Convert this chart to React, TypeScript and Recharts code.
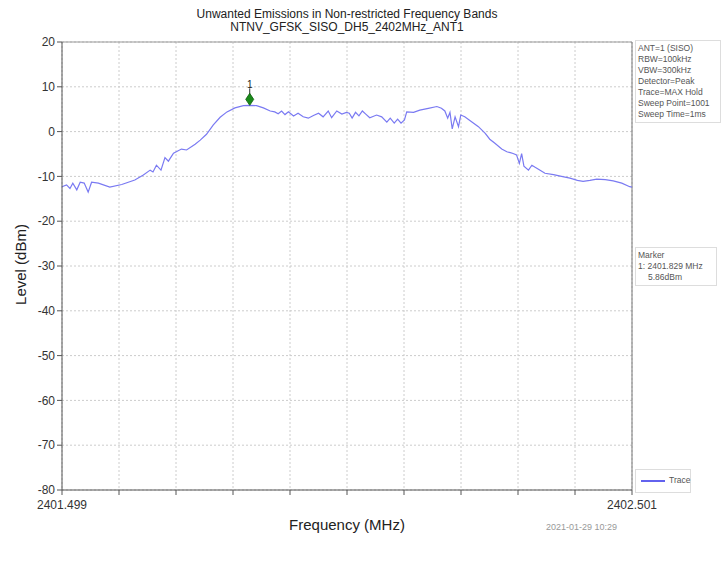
import { LineChart, Line, XAxis, YAxis, CartesianGrid, ReferenceLine, ReferenceDot } from 'recharts';

// trace (MHz, dBm)
const freqs = [
  2401.499, 2401.507, 2401.513, 2401.518, 2401.525, 2401.531, 2401.538, 2401.545, 2401.551, 2401.563,
  2401.583, 2401.604, 2401.627, 2401.642, 2401.654, 2401.659, 2401.665, 2401.673, 2401.68, 2401.686,
  2401.695, 2401.709, 2401.718, 2401.733, 2401.742, 2401.753, 2401.765, 2401.777, 2401.789, 2401.803,
  2401.818, 2401.829, 2401.841, 2401.853, 2401.865, 2401.873, 2401.879, 2401.885, 2401.891, 2401.897,
  2401.906, 2401.914, 2401.923, 2401.932, 2401.941, 2401.95, 2401.958, 2401.967, 2401.973, 2401.982,
  2401.991, 2401.999, 2402.004, 2402.009, 2402.015, 2402.021, 2402.027, 2402.033, 2402.04, 2402.052,
  2402.061, 2402.07, 2402.076, 2402.083, 2402.089, 2402.095, 2402.101, 2402.105, 2402.117, 2402.128,
  2402.143, 2402.158, 2402.166, 2402.172, 2402.177, 2402.181, 2402.185, 2402.19, 2402.196, 2402.2,
  2402.207, 2402.219, 2402.231, 2402.243, 2402.251, 2402.26, 2402.272, 2402.281, 2402.287, 2402.292,
  2402.298, 2402.303, 2402.307, 2402.311, 2402.319, 2402.325, 2402.33, 2402.338, 2402.348, 2402.363,
  2402.377, 2402.392, 2402.405, 2402.415, 2402.427, 2402.439, 2402.454, 2402.468, 2402.483, 2402.497,
  2402.501,
];
const levels = [
  -12.3, -11.9, -12.7, -11.5, -13.0, -11.3, -11.5, -13.5, -11.3, -11.5,
  -12.4, -11.8, -10.8, -9.7, -8.6, -9.0, -7.5, -8.6, -5.8, -6.6,
  -4.8, -3.9, -4.1, -2.8, -1.9, -0.6, 1.5, 3.2, 4.4, 5.3,
  5.8, 5.86, 5.8, 5.3, 4.6, 4.4, 4.0, 4.6, 3.8, 4.4,
  3.5, 4.1, 3.3, 3.0, 3.6, 4.1, 3.3, 4.6, 3.1, 4.6,
  3.9, 4.3, 4.1, 3.0, 4.3, 3.5, 4.6, 3.9, 3.1, 3.7,
  3.3, 2.1, 3.0, 1.9, 2.8, 1.9, 2.6, 4.4, 4.3, 4.8,
  5.2, 5.6, 5.2, 4.6, 3.0, 4.3, 0.6, 3.3, 1.1, 3.7,
  3.3, 2.2, 1.1, -0.4, -1.7, -2.6, -3.9, -4.5, -4.7, -4.9,
  -5.2, -7.1, -4.9, -7.7, -8.6, -7.5, -7.9, -8.5, -9.3, -9.6,
  -10.0, -10.4, -10.9, -11.1, -10.9, -10.6, -10.7, -11.0, -11.5, -12.3,
  -12.4,
];

const xTicks = [
  2401.499, 2401.5992, 2401.6994, 2401.7996, 2401.8998, 2402.0,
  2402.1002, 2402.2004, 2402.3006, 2402.4008, 2402.501,
];
const yTicks = [-80, -70, -60, -50, -40, -30, -20, -10, 0, 10, 20];

const settings = [
  'ANT=1 (SISO)',
  'RBW=100kHz',
  'VBW=300kHz',
  'Detector=Peak',
  'Trace=MAX Hold',
  'Sweep Point=1001',
  'Sweep Time=1ms',
];
const markerFreq = 2401.829;
const markerLevel = 5.86;

const data = freqs.map((f, i) => ({ freq: f, level: levels[i] }));

const font = '"Liberation Sans", Arial, sans-serif';

function MarkerShape(props: any) {
  const { cx, cy } = props;
  return (
    <g>
      <line x1={cx} y1={cy - 17} x2={cx} y2={cy - 10} stroke="#333" strokeWidth={1} />
      <text x={cx} y={cy - 17} textAnchor="middle" fontSize={10} fill="#222" fontFamily={font}>1</text>
      <polygon
        points={`${cx},${cy - 12} ${cx + 4},${cy - 6} ${cx},${cy} ${cx - 4},${cy - 6}`}
        fill="#1a8a1a"
        stroke="#0b5e0b"
        strokeWidth={0.8}
      />
    </g>
  );
}

export default function App() {
  const xTick = (v: number) => (v === xTicks[0] || v === xTicks[xTicks.length - 1] ? v.toFixed(3) : '');

  return (
    <div style={{ position: 'absolute', left: 0, top: 0, width: 728, height: 572, background: '#fff', fontFamily: font }}>
      {/* title */}
      <div style={{ position: 'absolute', left: 62, top: 8, width: 570, textAlign: 'center', fontSize: 12, lineHeight: '13px', color: '#222' }}>
        Unwanted Emissions in Non-restricted Frequency Bands
        <br />
        NTNV_GFSK_SISO_DH5_2402MHz_ANT1
      </div>

      <div style={{ position: 'absolute', left: 0, top: 0 }}>
        <LineChart width={728} height={572} data={data} margin={{ top: 42, right: 96, left: 12, bottom: 52 }}>
          <CartesianGrid stroke="#cccccc" strokeDasharray="2 2" />
          <XAxis
            dataKey="freq"
            type="number"
            domain={[2401.499, 2402.501]}
            ticks={xTicks}
            tickFormatter={xTick}
            interval={0}
            height={30}
            tick={{ fontSize: 12, fill: '#333', fontFamily: font }}
            stroke="#555"
            tickSize={5}
            tickMargin={5}
          />
          <YAxis
            type="number"
            domain={[-80, 20]}
            ticks={yTicks}
            interval={0}
            width={50}
            tick={{ fontSize: 12, fill: '#333', fontFamily: font }}
            stroke="#555"
            tickSize={5}
          />
          <ReferenceLine y={20} stroke="#999" />
          <ReferenceLine x={2402.501} stroke="#777" />
          <Line
            type="linear"
            dataKey="level"
            stroke="#7a7af2"
            strokeWidth={1.2}
            dot={false}
            isAnimationActive={false}
          />
          <ReferenceDot x={markerFreq} y={markerLevel} shape={MarkerShape} />
        </LineChart>
      </div>

      {/* axis titles */}
      <div style={{ position: 'absolute', left: 247, top: 516, width: 200, textAlign: 'center', fontSize: 15, color: '#222' }}>
        Frequency (MHz)
      </div>
      <div
        style={{
          position: 'absolute', left: -80, top: 256, width: 200, textAlign: 'center', fontSize: 15, color: '#222',
          transform: 'rotate(-90deg)',
        }}
      >
        Level (dBm)
      </div>
      <div style={{ position: 'absolute', left: 546, top: 522, fontSize: 9, color: '#999' }}>2021-01-29 10:29</div>

      {/* settings box */}
      <div
        style={{
          position: 'absolute', left: 635, top: 40, width: 80, padding: '2px 2px', border: '1px solid #ddd',
          fontSize: 8.5, lineHeight: '11px', color: '#555', whiteSpace: 'nowrap',
        }}
      >
        {settings.map((s) => (
          <div key={s}>{s}</div>
        ))}
      </div>

      {/* marker box */}
      <div
        style={{
          position: 'absolute', left: 635, top: 247, width: 76, padding: '2px 2px', border: '1px solid #ddd',
          fontSize: 8.5, lineHeight: '11px', color: '#555', whiteSpace: 'nowrap',
        }}
      >
        <div>Marker</div>
        <div>1: {markerFreq.toFixed(3)} MHz</div>
        <div style={{ paddingLeft: 10 }}>{markerLevel.toFixed(2)}dBm</div>
      </div>

      {/* legend */}
      <div
        style={{
          position: 'absolute', left: 635, top: 469, width: 54, height: 22, border: '1px solid #ddd',
          fontSize: 8.5, color: '#555',
        }}
      >
        <div style={{ position: 'absolute', left: 5, top: 10, width: 24, height: 2, background: '#6262ee' }} />
        <div style={{ position: 'absolute', left: 33, top: 5 }}>Trace</div>
      </div>
    </div>
  );
}
